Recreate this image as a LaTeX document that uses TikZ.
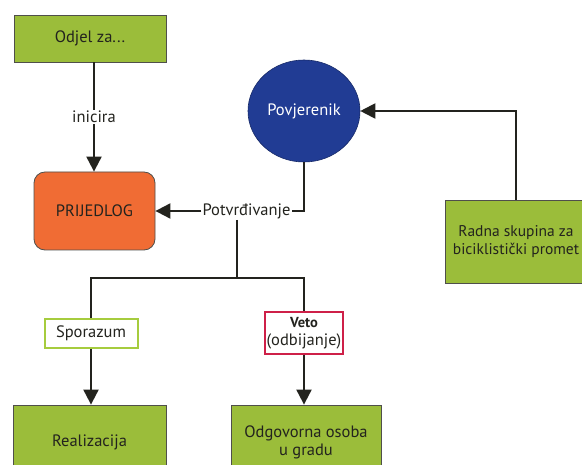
\documentclass[tikz,border=0pt]{standalone}
\usepackage{fontspec}
\setmainfont{PT Sans}
\usetikzlibrary{arrows.meta,shapes.geometric}
\definecolor{boxgreen}{RGB}{155,189,58}
\definecolor{lightgreen}{RGB}{166,204,62}
\definecolor{porange}{RGB}{240,108,52}
\definecolor{pblue}{RGB}{33,60,148}
\definecolor{pred}{RGB}{206,32,72}
\definecolor{ink}{RGB}{35,35,30}
\tikzset{
  greenbox/.style={draw=ink!80, line width=0.8pt, fill=boxgreen, text=ink, align=center, inner sep=0pt},
  conn/.style={draw=ink, line width=2pt},
  arr/.style={conn, -{Triangle[length=15pt,width=15pt]}},
  lbl/.style={fill=white, text=ink, inner sep=1pt},
}
\begin{document}
\begin{tikzpicture}[x=1pt,y=-1pt,font=\fontsize{16.5}{19}\selectfont]
\useasboundingbox (0,0) rectangle (582,465);
\fill[white] (0,0) rectangle (582,465);
\clip (0,0) rectangle (582,465);

\node[greenbox, minimum width=152pt, minimum height=47pt] (odjel) at (90,38.5) {Odjel za...};
\node[draw=ink!80, line width=0.8pt, fill=porange, rounded corners=11pt, text=ink,
      minimum width=121pt, minimum height=78pt, inner sep=0pt] (prijedlog) at (94.5,211) {PRIJEDLOG};
\node[ellipse, fill=pblue, draw=pblue!70!black, line width=0.6pt, text=white,
      minimum width=112pt, minimum height=102pt, inner sep=0pt] (povjerenik) at (304,111) {Povjerenik};
\node[text=ink, inner sep=1pt] (potvrd) at (246.5,211) {Potvrđivanje};
\node[greenbox, minimum width=142pt, minimum height=83pt, font=\fontsize{15.5}{19}\selectfont] (radna) at (516,241.5)
  {Radna skupina za\\[-1pt]biciklistički promet};
\node[draw=lightgreen, line width=2pt, fill=white, text=ink,
      minimum width=93pt, minimum height=29pt, inner sep=0pt] (sporazum) at (91,333.5) {Sporazum};
\node[draw=pred, line width=2pt, fill=white, text=ink, align=center,
      minimum width=78pt, minimum height=42pt, inner sep=0pt] (veto) at (304,333)
  {\fontsize{14.5}{16}\selectfont\textbf{Veto}\\[-1pt](odbijanje)};
\node[greenbox, minimum width=153pt, minimum height=75pt] (realizacija) at (89.5,442.5) {Realizacija};
\node[greenbox, minimum width=150pt, minimum height=75pt] (odgovorna) at (306,442.5)
  {Odgovorna osoba\\[-1pt]u gradu};

\coordinate (split) at (237,278);

% inicira
\draw[arr] (odjel.south -| 94,0) -- node[lbl] {inicira} (prijedlog.north -| 94,0);
% povjerenik -> potvrdivanje
\draw[conn] (povjerenik.south) |- (potvrd.east);
% potvrdivanje -> prijedlog
\draw[arr] (potvrd.west) -- (prijedlog.east);
% potvrdivanje -> split
\draw[conn] (potvrd.south -| split) -- (split);
\draw[conn] (sporazum.north) |- (split) -| (veto.north);
% radna -> povjerenik
\draw[arr] (radna.north) |- (povjerenik.east);
% outcomes
\draw[arr] (sporazum.south) -- (sporazum.south |- realizacija.north);
\draw[arr] (veto.south) -- (veto.south |- odgovorna.north);
\end{tikzpicture}
\end{document}
